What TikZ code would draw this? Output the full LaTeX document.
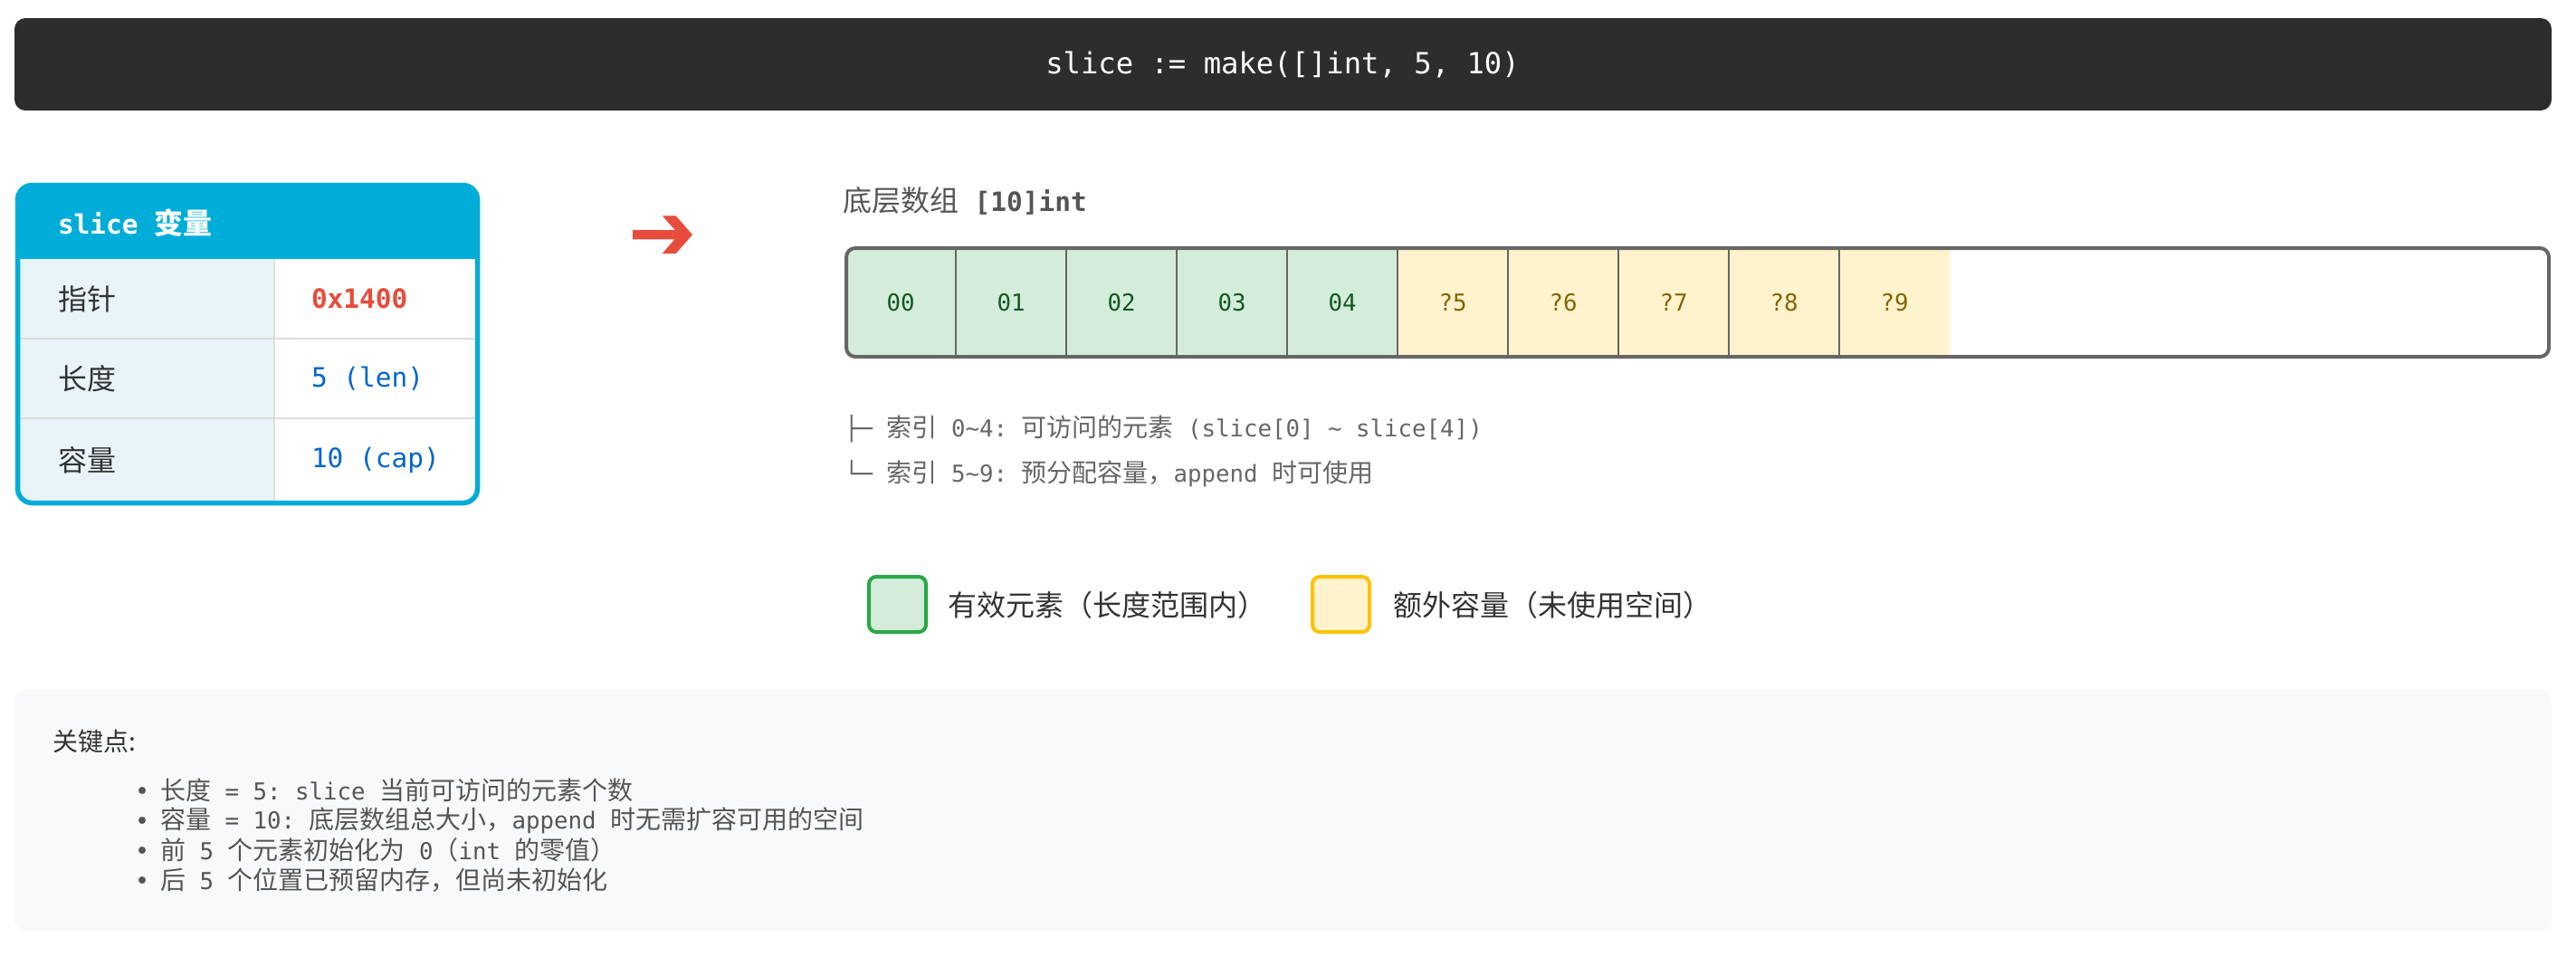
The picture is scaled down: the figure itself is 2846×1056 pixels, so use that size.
\documentclass[tikz,border=0pt]{standalone}
\usepackage{fontspec}
\setmainfont{DejaVu Sans}
\setmonofont[Scale=0.92]{DejaVu Sans Mono}
\newfontfamily\cjk{Noto Sans CJK SC}
\newcommand\zh[1]{{\cjk #1}}
\newcommand\tld{\string~}
\definecolor{barbg}{HTML}{2D2D2D}
\definecolor{gocyan}{HTML}{00ADD8}
\definecolor{lblbg}{HTML}{E8F4F8}
\definecolor{sepc}{HTML}{DDDDDD}
\definecolor{txt}{HTML}{333333}
\definecolor{ptr}{HTML}{E74C3C}
\definecolor{val}{HTML}{0066CC}
\definecolor{okbg}{HTML}{D4EDDA}
\definecolor{oktx}{HTML}{155724}
\definecolor{okbd}{HTML}{28A745}
\definecolor{capbg}{HTML}{FFF3CD}
\definecolor{captx}{HTML}{856404}
\definecolor{capbd}{HTML}{FFC107}
\definecolor{keybg}{HTML}{F8F9FA}
\definecolor{gray5}{HTML}{555555}
\definecolor{gray6}{HTML}{666666}
\begin{document}
\begin{tikzpicture}[x=0.5pt,y=-0.5pt,
  every node/.style={inner sep=0pt,outer sep=0pt},
  lbl/.style={anchor=west,text=txt,font=\cjk\fontsize{16}{18}\selectfont},
  valtxt/.style={anchor=west,text=val,font=\ttfamily\fontsize{16}{18}\selectfont},
  cellok/.style={text=oktx,font=\ttfamily\fontsize{14}{16}\selectfont},
  cellcap/.style={text=captx,font=\ttfamily\fontsize{14}{16}\selectfont},
  note/.style={anchor=west,text=gray6,font=\ttfamily\fontsize{14}{16}\selectfont},
  keyitem/.style={anchor=west,text=gray5,font=\ttfamily\fontsize{14}{16}\selectfont},
  dot/.style={circle,fill=gray5,minimum size=4pt},
  legbox/.style={rounded corners=4pt,line width=2pt,minimum width=31.5pt,minimum height=30.5pt},
  legtxt/.style={anchor=west,text=txt,font=\cjk\fontsize{16}{18}\selectfont}]

\path[use as bounding box] (0,0) rectangle (2846,1056);

% title bar
\fill[barbg, rounded corners=6pt] (16,20) rectangle (2819,122);
\node (title) at (1417,71) [text=white, font=\ttfamily\fontsize{17.5}{20}\selectfont] {slice := make([]int, 5, 10)};

% slice variable table
\begin{scope}
  \clip[rounded corners=8pt] (19.5,204.5) rectangle (527.5,555.5);
  \fill[gocyan] (0,190) rectangle (540,286);
  \fill[lblbg] (0,286) rectangle (303,560);
  \fill[white] (303,286) rectangle (540,560);
  \draw[sepc, line width=1pt] (0,374) -- (540,374) (0,462) -- (540,462) (303,286) -- (303,560);
\end{scope}
\draw[gocyan, line width=2.75pt, rounded corners=8pt] (19.5,204.5) rectangle (527.5,555.5);

\node (hdr) [anchor=west, text=white, font=\ttfamily\bfseries\fontsize{16}{18}\selectfont] at (64,246) {slice {\cjk\bfseries 变量}};
\node (k1) [lbl] at (64,330) {指针};
\node (v1) [valtxt, text=ptr, font=\ttfamily\bfseries\fontsize{16}{18}\selectfont] at (344,330) {0x1400};
\node (k2) [lbl] at (64,418) {长度};
\node (v2) [valtxt] at (344,418) {5 (len)};
\node (k3) [lbl] at (64,508) {容量};
\node (v3) [valtxt] at (344,508) {10 (cap)};

% arrow glyph
\fill[ptr] (699,254) -- (745.7,254) -- (731.7,238.3) -- (746.7,238.3) -- (765,259.3) -- (746.7,280) -- (731.7,280) -- (745.3,264.3) -- (699,264.3) -- cycle;

% underlying array
\node (arrlbl) [anchor=west, text=gray5, font=\ttfamily\fontsize{16}{18}\selectfont] at (931,222) {\zh{底层数组} \textbf{[10]int}};
\begin{scope}
  \clip[rounded corners=5pt] (935,274) rectangle (2816,394);
  \foreach \i in {0,...,4} \fill[okbg] ({934+122*\i},260) rectangle ({934+122*(\i+1)},400);
  \foreach \i in {5,...,9} \fill[capbg] ({934+122*\i},260) rectangle ({934+122*(\i+1)},400);
  \foreach \i in {1,...,9} \draw[gray6, line width=0.75pt] ({934+122*\i},274) -- ({934+122*\i},394);
\end{scope}
\draw[gray6, line width=2pt, rounded corners=5pt] (935,274) rectangle (2816,394);
\foreach \i in {0,...,4} \node (c\i) [cellok] at ({995+122*\i},334) {0\i};
\foreach \i in {5,...,9} \node (c\i) [cellcap] at ({995+122*\i},334) {?\i};

% index notes
\node (n1) [note] at (933,474) {├─ \zh{索引} 0\tld4: \zh{可访问的元素} (slice[0] \tld{} slice[4])};
\node (n2) [note] at (933,523) {└─ \zh{索引} 5\tld9: \zh{预分配容量，}append \zh{时可使用}};

% legend
\node (lg1) [legbox, draw=okbd, fill=okbg] at (991.5,667.5) {};
\node (lt1) [legtxt] at (1047,668) {有效元素（长度范围内）};
\node (lg2) [legbox, draw=capbd, fill=capbg] at (1481.5,667.5) {};
\node (lt2) [legtxt] at (1539,668) {额外容量（未使用空间）};

% key points
\fill[keybg, rounded corners=6pt] (16,762) rectangle (2819,1028);
\node (kt) [anchor=west, text=txt, font=\cjk\fontsize{14}{16}\selectfont] at (58,819) {关键点:};
\node (d1) [dot] at (157,873) {};
\node (i1) [keyitem] at (177,873) {\zh{长度} = 5: slice \zh{当前可访问的元素个数}};
\node (d2) [dot] at (157,906) {};
\node (i2) [keyitem] at (177,906) {\zh{容量} = 10: \zh{底层数组总大小，}append \zh{时无需扩容可用的空间}};
\node (d3) [dot] at (157,939) {};
\node (i3) [keyitem] at (177,939) {\zh{前} 5 \zh{个元素初始化为} 0\zh{（}int \zh{的零值）}};
\node (d4) [dot] at (157,972) {};
\node (i4) [keyitem] at (177,972) {\zh{后} 5 \zh{个位置已预留内存，但尚未初始化}};
\end{tikzpicture}
\end{document}
